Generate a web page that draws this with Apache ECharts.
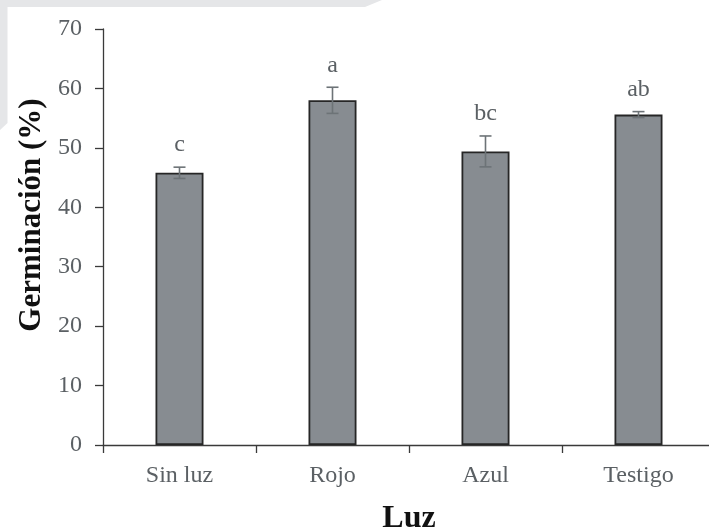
<!DOCTYPE html>
<html>
<head>
<meta charset="utf-8">
<script src="https://cdn.jsdelivr.net/npm/echarts@6/dist/echarts.min.js"></script>
<style>html,body{margin:0;padding:0;background:#fff;}#c{width:709px;height:527px;}</style>
</head>
<body>
<div id="c"></div>
<script>
const categories = ['Sin luz', 'Rojo', 'Azul', 'Testigo'];
const means = [45.8, 58.0, 49.4, 55.6];
const errors = [0.95, 2.2, 2.6, 0.5];
const letters = ['c', 'a', 'bc', 'ab'];
const yTicks = [0, 10, 20, 30, 40, 50, 60, 70];

const serif = '"Liberation Serif", "Times New Roman", serif';
const chart = echarts.init(document.getElementById('c'));
chart.setOption({
  animation: false,
  backgroundColor: '#ffffff',
  graphic: [{
    type: 'polygon', z: -10, silent: true,
    shape: { points: [[0,0],[382,0],[365,7],[7.5,7],[7.5,123],[0,130]] },
    style: { fill: '#e5e6e8' }
  }],
  grid: { left: 103, top: 29, bottom: 82, right: -6, containLabel: false, outerBoundsMode: 'none' },
  xAxis: {
    type: 'category',
    data: categories,
    name: 'Luz',
    nameLocation: 'middle',
    nameGap: 58,
    nameTextStyle: { fontFamily: serif, fontSize: 32, fontWeight: 'bold', color: '#111' },
    axisLine: { lineStyle: { color: '#3a3a3a', width: 1.3 } },
    axisTick: { show: true, alignWithLabel: false, inside: false, length: 8, lineStyle: { color: '#3a3a3a', width: 1.3 } },
    axisLabel: { fontFamily: serif, fontSize: 24, color: '#5b6064', margin: 19 }
  },
  yAxis: {
    type: 'value',
    min: 0, max: 70, interval: 10,
    name: 'Germinación (%)',
    nameLocation: 'middle',
    nameGap: 56,
    nameTextStyle: { fontFamily: serif, fontSize: 31, fontWeight: 'bold', color: '#111', padding: [0, 0, 0, 44] },
    axisLine: { show: true, lineStyle: { color: '#3a3a3a', width: 1.3 } },
    axisTick: { show: true, inside: false, length: 8, lineStyle: { color: '#3a3a3a', width: 1.3 } },
    splitLine: { show: false },
    axisLabel: { fontFamily: serif, fontSize: 24, color: '#5b6064', margin: 21,
      formatter: v => yTicks.includes(v) ? String(v) : '' }
  },
  series: [{
    type: 'bar',
    data: means,
    barWidth: 48,
    itemStyle: { color: '#878c91', borderColor: '#262626', borderWidth: 1.8 }
  }, {
    type: 'custom',
    z: 5,
    data: means.map((m, i) => [i, m, errors[i]]),
    renderItem: function (params, api) {
      const i = api.value(0), v = api.value(1), e = api.value(2);
      const top = api.coord([i, v + e]);
      const bot = api.coord([i, v - e]);
      const hw = 6;
      const st = { stroke: '#6d7377', lineWidth: 1.6 };
      return {
        type: 'group',
        children: [
          { type: 'line', shape: { x1: top[0], y1: top[1], x2: bot[0], y2: bot[1] }, style: st },
          { type: 'line', shape: { x1: top[0] - hw, y1: top[1], x2: top[0] + hw, y2: top[1] }, style: st },
          { type: 'line', shape: { x1: bot[0] - hw, y1: bot[1], x2: bot[0] + hw, y2: bot[1] }, style: st },
          { type: 'text', x: top[0], y: top[1] - 10,
            style: { text: letters[params.dataIndex], align: 'center', verticalAlign: 'bottom',
              font: '24px ' + serif, fill: '#5b6064' } }
        ]
      };
    }
  }]
});
</script>
</body>
</html>
